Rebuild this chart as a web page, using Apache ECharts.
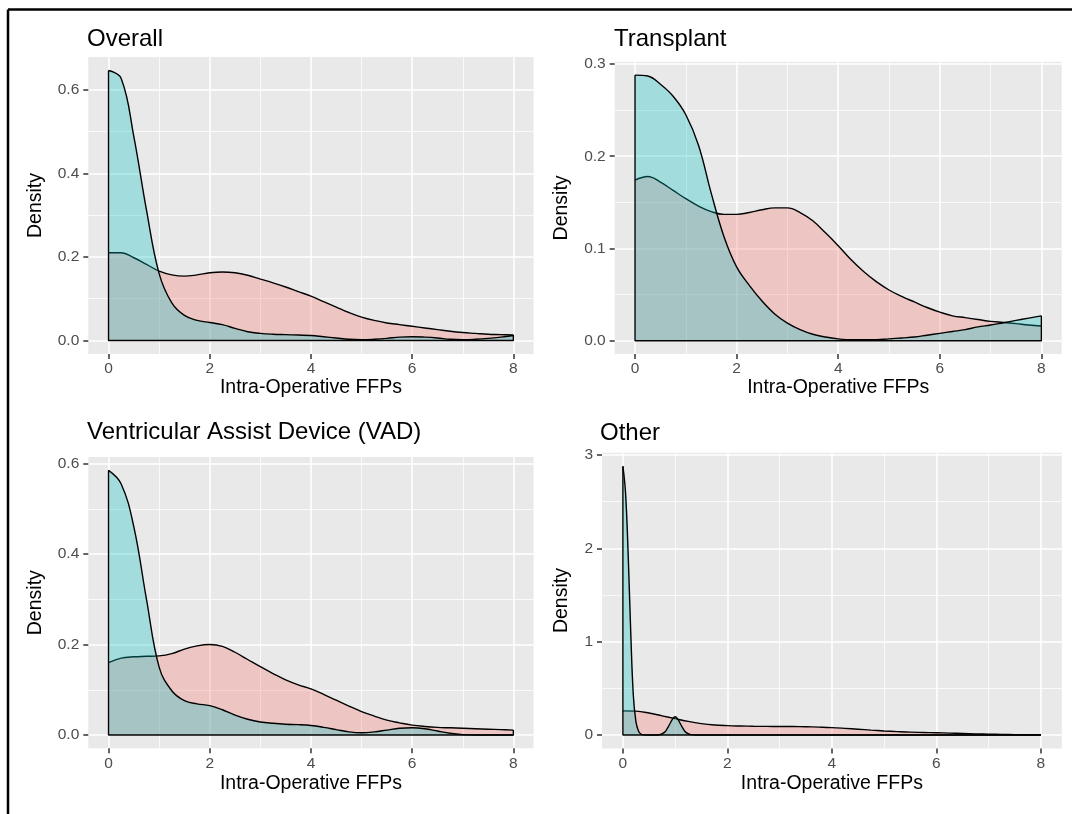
<!DOCTYPE html>
<html><head><meta charset="utf-8">
<script src="https://cdn.jsdelivr.net/npm/echarts@6/dist/echarts.min.js"></script>
<style>html,body{margin:0;padding:0;background:#fff}#c{width:1072px;height:814px}</style>
</head><body><div id="c"></div>
<script>
// ---- data ----
const panelTitles = ['Overall', 'Transplant', 'Ventricular Assist Device (VAD)', 'Other'];
const xTicks = [0, 2, 4, 6, 8];
const xMinor = [1, 3, 5, 7];
const yTicksOverall = [0, 0.2, 0.4, 0.6];
const yMinorOverall = [0.1, 0.3, 0.5];
const yTicksTransplant = [0, 0.1, 0.2, 0.3];
const yMinorTransplant = [0.05, 0.15, 0.25];
const yTicksVAD = [0, 0.2, 0.4, 0.6];
const yMinorVAD = [0.1, 0.3, 0.5];
const yTicksOther = [0, 1, 2, 3];
const yMinorOther = [0.5, 1.5, 2.5];

const xs = [0,0.25,0.5,0.75,1,1.25,1.5,1.75,2,2.25,2.5,2.75,3,3.25,3.5,3.75,4,4.25,4.5,4.75,5,5.25,5.5,5.75,6,6.25,6.5,6.75,7,7.25,7.5,7.75,8];

const overallRed  = [0.21,0.21,0.198,0.182,0.166,0.157,0.154,0.157,0.162,0.164,0.162,0.156,0.147,0.138,0.128,0.117,0.106,0.093,0.08,0.067,0.056,0.048,0.042,0.038,0.034,0.03,0.026,0.022,0.019,0.017,0.015,0.014,0.013];
const overallTeal = [0.646,0.627,0.488,0.312,0.16,0.09,0.06,0.048,0.043,0.038,0.029,0.021,0.017,0.015,0.014,0.013,0.012,0.009,0.006,0.003,0.002,0.003,0.005,0.008,0.009,0.008,0.006,0.003,0.002,0.003,0.005,0.008,0.012];

const transplantRed  = [0.174,0.178,0.172,0.163,0.154,0.146,0.14,0.137,0.137,0.139,0.142,0.144,0.144,0.139,0.13,0.117,0.103,0.088,0.075,0.064,0.055,0.048,0.042,0.036,0.031,0.027,0.025,0.023,0.021,0.0198,0.0185,0.017,0.016];
const transplantTeal = [0.288,0.287,0.278,0.265,0.245,0.212,0.16,0.113,0.08,0.06,0.043,0.029,0.019,0.012,0.007,0.004,0.002,0.001,0.001,0.001,0.002,0.003,0.004,0.006,0.008,0.01,0.012,0.015,0.017,0.0195,0.022,0.0245,0.027];

const vadRed  = [0.16,0.17,0.173,0.174,0.175,0.18,0.19,0.197,0.2,0.196,0.183,0.167,0.151,0.136,0.122,0.111,0.102,0.09,0.077,0.064,0.052,0.042,0.033,0.027,0.022,0.019,0.017,0.016,0.015,0.014,0.013,0.012,0.011];
const vadTeal = [0.585,0.555,0.46,0.3,0.15,0.098,0.076,0.069,0.065,0.056,0.044,0.035,0.029,0.026,0.024,0.023,0.021,0.017,0.012,0.007,0.005,0.007,0.011,0.015,0.016,0.014,0.009,0.004,0.001,0,0,0,0];

const otherRed  = [0.258,0.255,0.235,0.205,0.175,0.145,0.122,0.107,0.1,0.096,0.093,0.092,0.091,0.09,0.088,0.084,0.079,0.071,0.062,0.052,0.043,0.036,0.03,0.027,0.024,0.02,0.016,0.012,0.009,0.006,0.004,0.003,0.002];
const otherTealX = [0,0.05,0.1,0.15,0.2,0.25,0.3,0.35,0.4,0.5,0.6,0.7,0.8,0.85,0.9,0.95,1,1.05,1.1,1.15,1.2,1.3,1.4,1.5,2,3,4,5,6,7,8];
const otherTeal  = [2.88,2.6,1.95,1.1,0.42,0.14,0.04,0.008,0.001,0,0,0.002,0.03,0.07,0.12,0.17,0.195,0.17,0.12,0.07,0.03,0.004,0,0,0,0,0,0,0,0,0];

// ---- layout ----
const FONT = 'Liberation Sans, Arial, sans-serif';
const RED = 'rgba(248,118,109,0.3)';
const TEAL = 'rgba(0,191,196,0.3)';
const panels = [
  {redX: xs, red: overallRed, tealX: xs, teal: overallTeal, yT: yTicksOverall, yM: yMinorOverall, dec: 1,
   grid: {left: 88.3, top: 57, width: 445.3, height: 297}, gapX: 21, gapY: 42.5, title: {left: 87, top: 27.5}},
  {redX: xs, red: transplantRed, tealX: xs, teal: transplantTeal, yT: yTicksTransplant, yM: yMinorTransplant, dec: 1,
   grid: {left: 614.7, top: 61.8, width: 447, height: 292.2}, gapX: 21, gapY: 43, title: {left: 614, top: 27.5}},
  {redX: xs, red: vadRed, tealX: xs, teal: vadTeal, yT: yTicksVAD, yM: yMinorVAD, dec: 1,
   grid: {left: 88.3, top: 457.1, width: 445.3, height: 291.2}, gapX: 25, gapY: 42.5, title: {left: 87, top: 420.5}},
  {redX: xs, red: otherRed, tealX: otherTealX, teal: otherTeal, yT: yTicksOther, yM: yMinorOther, dec: 0,
   grid: {left: 602, top: 452.8, width: 459.8, height: 295.6}, gapX: 25, gapY: 30.5, title: {left: 600, top: 421}}
];

const grids = [], xAxes = [], yAxes = [], series = [], titles = [];
const pair = (xa, ya) => xa.map((x, i) => [x, ya[i]]);
const hiddenLine = {show: true, onZero: false, lineStyle: {color: 'rgba(0,0,0,0)', width: 0}};

panels.forEach((p, i) => {
  grids.push(Object.assign({show: true, backgroundColor: '#E9E9E9', borderWidth: 0, containLabel: false, outerBoundsMode: 'none'}, p.grid));
  titles.push({text: panelTitles[i], left: p.title.left, top: p.title.top, padding: 0,
    textStyle: {fontFamily: FONT, fontSize: 24, lineHeight: 24, fontWeight: 'normal', color: '#000'}});
  const yMaxData = Math.max(Math.max.apply(null, p.red), Math.max.apply(null, p.teal));
  const yMin = -0.05 * yMaxData, yMax = 1.05 * yMaxData;
  const xMin = -0.4, xMax = 8.4;
  // major x axis
  xAxes.push({type: 'value', gridIndex: i, min: xMin, max: xMax, position: 'bottom',
    axisLine: hiddenLine,
    axisTick: {show: true, inside: false, length: 5, customValues: xTicks, lineStyle: {color: '#333', width: 1.5}},
    axisLabel: {customValues: xTicks, margin: 7, color: '#4D4D4D', fontSize: 15.5, fontFamily: FONT},
    splitLine: {show: true, lineStyle: {color: '#fff', width: 1.5}},
    name: 'Intra-Operative FFPs', nameLocation: 'middle', nameGap: p.gapX,
    nameTextStyle: {color: '#000', fontSize: 19.5, fontFamily: FONT}});
  // minor x axis
  xAxes.push({type: 'value', gridIndex: i, min: xMin, max: xMax, position: 'top',
    axisLine: {show: false, onZero: false}, axisLabel: {show: false},
    axisTick: {show: false, customValues: xMinor},
    splitLine: {show: true, lineStyle: {color: '#fff', width: 0.75}}});
  // major y axis
  yAxes.push({type: 'value', gridIndex: i, min: yMin, max: yMax, position: 'left',
    axisLine: hiddenLine,
    axisTick: {show: true, inside: false, length: 5, customValues: p.yT, lineStyle: {color: '#333', width: 1.5}},
    axisLabel: {customValues: p.yT, margin: 9, color: '#4D4D4D', fontSize: 15.5, fontFamily: FONT,
      formatter: v => Number(v).toFixed(p.dec)},
    splitLine: {show: true, lineStyle: {color: '#fff', width: 1.5}},
    name: 'Density', nameLocation: 'middle', nameGap: p.gapY,
    nameTextStyle: {color: '#000', fontSize: 19.5, fontFamily: FONT}});
  // minor y axis
  yAxes.push({type: 'value', gridIndex: i, min: yMin, max: yMax, position: 'right',
    axisLine: {show: false, onZero: false}, axisLabel: {show: false},
    axisTick: {show: false, customValues: p.yM},
    splitLine: {show: true, lineStyle: {color: '#fff', width: 0.75}}});

  const common = {type: 'line', xAxisIndex: 2 * i, yAxisIndex: 2 * i, symbol: 'none', smooth: 0.4,
    silent: true, lineStyle: {color: '#000', width: 1.4}};
  series.push(Object.assign({}, common, {name: 'red' + i, data: pair(p.redX, p.red), z: 2,
    areaStyle: {color: RED, opacity: 1}}));
  series.push(Object.assign({}, common, {name: 'teal' + i, data: pair(p.tealX, p.teal), z: 3,
    areaStyle: {color: TEAL, opacity: 1}}));
  const first = Math.max(p.red[0], p.teal[0]);
  const last = Math.max(p.red[p.red.length - 1], p.teal[p.teal.length - 1]);
  series.push({type: 'line', xAxisIndex: 2 * i, yAxisIndex: 2 * i, symbol: 'none', silent: true, z: 4,
    lineStyle: {color: '#000', width: 1.4},
    data: [[0, first], [0, 0], [8, 0], [8, last]]});
});

const chart = echarts.init(document.getElementById('c'), null, {renderer: 'canvas'});
chart.setOption({
  animation: false,
  backgroundColor: '#fff',
  title: titles,
  grid: grids,
  xAxis: xAxes,
  yAxis: yAxes,
  series: series,
  graphic: [
    {type: 'line', shape: {x1: 8, y1: 9.5, x2: 1072, y2: 9.5}, style: {stroke: '#000', lineWidth: 2.5}},
    {type: 'line', shape: {x1: 8, y1: 9.5, x2: 8, y2: 814}, style: {stroke: '#000', lineWidth: 2.5}}
  ]
});
</script>
</body></html>
